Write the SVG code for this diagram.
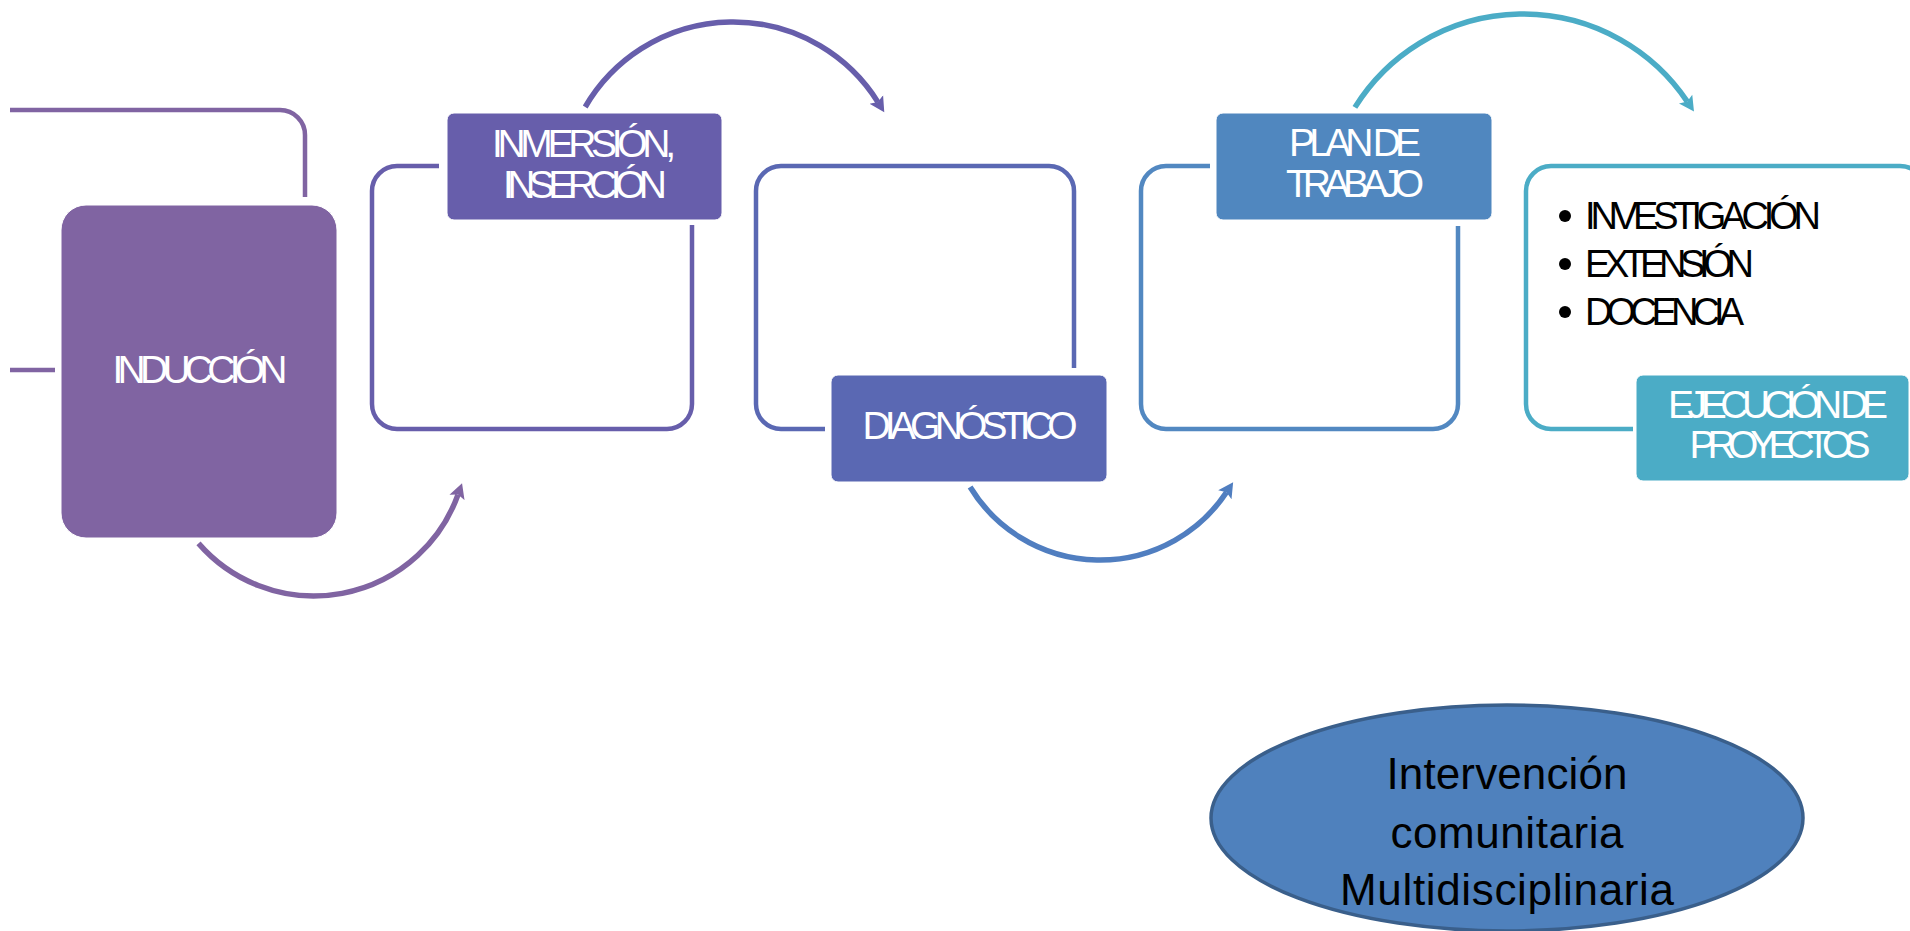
<svg xmlns="http://www.w3.org/2000/svg" width="1910" height="931" viewBox="0 0 1910 931">
<defs>
<style>
.lbl{font-family:"Liberation Sans",Arial,sans-serif;font-size:39px;fill:#ffffff;text-anchor:middle}
.blt{font-family:"Liberation Sans",Arial,sans-serif;font-size:38px;fill:#000000}
.ell{font-family:"Liberation Sans",Arial,sans-serif;font-size:44px;fill:#000000;text-anchor:middle}
.ol{fill:none;stroke-width:4.5}
.arc{fill:none;stroke-width:5.5}
.box{stroke:#ffffff;stroke-width:1}
</style>
<marker id="a1" markerUnits="userSpaceOnUse" viewBox="0 -9 16 18" refX="3" refY="0" markerWidth="16" markerHeight="18" orient="auto"><path d="M0,-8 L15,0 L0,8 L3,0 Z" fill="#8064A2"/></marker>
<marker id="a2" markerUnits="userSpaceOnUse" viewBox="0 -9 16 18" refX="3" refY="0" markerWidth="16" markerHeight="18" orient="auto"><path d="M0,-8 L15,0 L0,8 L3,0 Z" fill="#675EAB"/></marker>
<marker id="a3" markerUnits="userSpaceOnUse" viewBox="0 -9 16 18" refX="3" refY="0" markerWidth="16" markerHeight="18" orient="auto"><path d="M0,-8 L15,0 L0,8 L3,0 Z" fill="#507EC0"/></marker>
<marker id="a4" markerUnits="userSpaceOnUse" viewBox="0 -9 16 18" refX="3" refY="0" markerWidth="16" markerHeight="18" orient="auto"><path d="M0,-8 L15,0 L0,8 L3,0 Z" fill="#4BACC6"/></marker>
</defs>
<rect width="1910" height="931" fill="#ffffff"/>

<g id="connectors">
<path class="arc" stroke="#8064A2" d="M198.5,543.4 A153,153 0 0 0 458,494.6" marker-end="url(#a1)"/>
<path class="arc" stroke="#675EAB" d="M585.2,107 A171,171 0 0 1 877.9,102.1" marker-end="url(#a2)"/>
<path class="arc" stroke="#507EC0" d="M970.1,487 A152,152 0 0 0 1226.5,492.3" marker-end="url(#a3)"/>
<path class="arc" stroke="#4BACC6" d="M1354.9,107.4 A198,198 0 0 1 1687.3,101.6" marker-end="url(#a4)"/>
</g>

<g id="induccion">
<path class="ol" stroke="#8064A2" d="M10,110 H280 A25,25 0 0 1 305,135 V197"/>
<path class="ol" stroke="#8064A2" d="M10,370 H55"/>
<rect class="box" x="61" y="205" width="276" height="333" rx="25" fill="#8064A2"/>
<text class="lbl" x="200" y="383" textLength="175">INDUCCIÓN</text>
</g>

<g id="inmersion">
<path class="ol" stroke="#675EAB" d="M439,166 H397 A25,25 0 0 0 372,191 V404 A25,25 0 0 0 397,429 H667 A25,25 0 0 0 692,404 V225"/>
<rect class="box" x="447" y="113" width="275" height="107" rx="7" fill="#675EAB"/>
<text class="lbl" x="584" y="157" textLength="184">INMERSIÓN,</text>
<text class="lbl" x="585" y="198" textLength="164">INSERCIÓN</text>
</g>

<g id="diagnostico">
<path class="ol" stroke="#5A68B3" d="M825,429 H781 A25,25 0 0 1 756,404 V191 A25,25 0 0 1 781,166 H1049 A25,25 0 0 1 1074,191 V368"/>
<rect class="box" x="831" y="375" width="276" height="107" rx="7" fill="#5A68B3"/>
<text class="lbl" x="970" y="439" textLength="215">DIAGNÓSTICO</text>
</g>

<g id="plan">
<path class="ol" stroke="#5288C1" d="M1210,166 H1166 A25,25 0 0 0 1141,191 V404 A25,25 0 0 0 1166,429 H1433 A25,25 0 0 0 1458,404 V226"/>
<rect class="box" x="1216" y="113" width="276" height="107" rx="7" fill="#5087BF"/>
<text class="lbl" x="1355" y="156" textLength="132">PLAN DE</text>
<text class="lbl" x="1355" y="197" textLength="138">TRABAJO</text>
</g>

<g id="ejecucion">
<path class="ol" stroke="#4BACC6" d="M1633,429 H1551 A25,25 0 0 1 1526,404 V191 A25,25 0 0 1 1551,166 H1900 A25,25 0 0 1 1925,191 V404"/>
<circle cx="1565" cy="216" r="6" fill="#000"/>
<circle cx="1565" cy="264" r="6" fill="#000"/>
<circle cx="1565" cy="312" r="6" fill="#000"/>
<text class="blt" x="1585" y="229" textLength="236">INVESTIGACIÓN</text>
<text class="blt" x="1585" y="277" textLength="169">EXTENSIÓN</text>
<text class="blt" x="1585" y="325" textLength="159">DOCENCIA</text>
<rect class="box" x="1636" y="375" width="273" height="106" rx="7" fill="#4BACC6"/>
<text class="lbl" x="1778" y="418" textLength="220">EJECUCIÓN DE</text>
<text class="lbl" x="1780" y="458" textLength="181">PROYECTOS</text>
</g>

<g id="intervencion">
<ellipse cx="1507" cy="818" rx="296" ry="113" fill="#4F81BD" stroke="#3A5F8B" stroke-width="3.5"/>
<text class="ell" x="1507" y="789" textLength="241">Intervención</text>
<text class="ell" x="1507" y="848" textLength="233">comunitaria</text>
<text class="ell" x="1507" y="905" textLength="334">Multidisciplinaria</text>
</g>
</svg>
